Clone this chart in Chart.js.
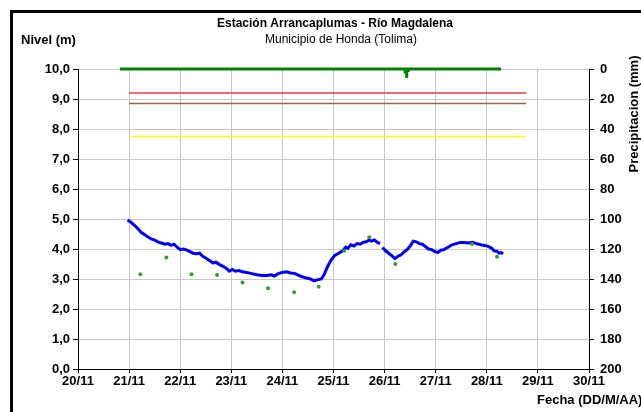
<!DOCTYPE html>
<html>
<head>
<meta charset="utf-8">
<script src="https://cdn.jsdelivr.net/npm/chart.js@4"></script>
<style>
  html, body { margin: 0; padding: 0; background: #fff; overflow: hidden; }
  #wrap { position: relative; width: 641px; height: 412px; }
  #frame { position: absolute; left: 10px; top: 10px; width: 700px; height: 500px; border: 3px solid #000; pointer-events: none; }
</style>
</head>
<body>
<div id="wrap">
  <canvas id="c" width="641" height="412"></canvas>
  <div id="frame"></div>
</div>
<script>
// ---- Data (x in days since 20/11 00:00) ----
const fechas = ["20/11","21/11","22/11","23/11","24/11","25/11","26/11","27/11","28/11","29/11","30/11"];

const nivelDias = [0.97,1.03,1.10,1.17,1.24,1.30,1.37,1.43,1.50,1.56,1.63,1.70,1.76,1.82,1.88,1.94,2.00,2.06,2.12,2.18,2.25,2.32,2.38,2.44,2.50,2.57,2.64,2.70,2.77,2.84,2.90,2.96,3.02,3.08,3.15,3.22,3.30,3.40,3.50,3.60,3.70,3.78,3.84,3.92,4.00,4.08,4.16,4.25,4.35,4.45,4.55,4.62,4.68,4.76,4.82,4.88,4.95,5.02,5.10,5.18,5.24,5.28,5.34,5.40,5.46,5.52,5.58,5.64,5.70,5.74,5.80,5.86,5.91,5.935,5.96,6.02,6.08,6.14,6.20,6.26,6.32,6.38,6.44,6.50,6.56,6.62,6.68,6.74,6.80,6.86,6.92,6.98,7.04,7.10,7.16,7.24,7.32,7.40,7.48,7.56,7.64,7.72,7.80,7.88,7.96,8.04,8.10,8.14,8.20,8.24,8.28,8.32];
const nivelValores = [4.97,4.90,4.80,4.68,4.55,4.48,4.40,4.34,4.30,4.24,4.20,4.16,4.18,4.12,4.16,4.06,3.98,4.00,3.97,3.92,3.86,3.84,3.86,3.76,3.70,3.62,3.54,3.56,3.48,3.42,3.36,3.26,3.32,3.26,3.28,3.24,3.22,3.18,3.14,3.12,3.12,3.14,3.10,3.18,3.22,3.24,3.20,3.18,3.10,3.04,3.00,2.94,2.97,3.00,3.16,3.40,3.62,3.78,3.86,3.94,4.06,4.02,4.14,4.10,4.18,4.16,4.22,4.24,4.30,4.26,4.30,4.22,4.18,null,4.05,3.94,3.86,3.78,3.68,3.76,3.80,3.90,3.98,4.10,4.26,4.24,4.18,4.16,4.08,4.00,3.98,3.92,3.88,3.96,3.98,4.06,4.14,4.18,4.22,4.22,4.20,4.22,4.18,4.14,4.12,4.08,4.02,3.94,3.92,3.86,3.88,3.84];

const lecturasDias = [1.22,1.73,2.22,2.72,3.22,3.72,4.23,4.71,5.21,5.70,6.21,7.71,8.20];
const lecturasValores = [3.16,3.72,3.16,3.13,2.88,2.69,2.56,2.74,3.94,4.39,3.50,4.17,3.74];

const precipDias = [0.82,6.400,6.402,6.404,6.430,6.432,6.434,6.460,6.462,6.464,8.28];
const precipValores = [0,0,3,0,0,6,0,0,2,0,0];

const umbralDias = [1.0, 8.77];
const umbralRojo = 9.2;
const umbralCafe = 8.85;
const umbralAmarillo = 7.75;

// ---- Chart ----
const pts = (xs, ys) => xs.map((x, i) => ({ x: x, y: ys[i] }));
const tickFont = { family: 'Liberation Sans, Arial, sans-serif', size: 13, weight: 'bold' };

const textPlugin = {
  id: 'texts',
  afterDraw(chart) {
    const c = chart.ctx;
    c.save();
    c.fillStyle = '#000';
    c.textBaseline = 'middle';
    c.textAlign = 'center';
    c.font = 'bold 12px "Liberation Sans", Arial, sans-serif';
    c.fillText('Estación Arrancaplumas - Río Magdalena', 335, 24);
    c.font = '12px "Liberation Sans", Arial, sans-serif';
    c.fillText('Municipio de Honda (Tolima)', 341, 40);
    c.textAlign = 'left';
    c.font = 'bold 13px "Liberation Sans", Arial, sans-serif';
    c.fillText('Nivel (m)', 21, 40);
    c.fillText('Fecha (DD/M/AA)', 537, 400);
    c.translate(634, 114);
    c.rotate(-Math.PI / 2);
    c.textAlign = 'center';
    c.fillText('Precipitacion (mm)', 0, 0);
    c.restore();
  }
};

new Chart(document.getElementById('c'), {
  type: 'line',
  data: {
    datasets: [
      { label: 'Lecturas', data: pts(lecturasDias, lecturasValores), showLine: false,
        pointRadius: 2, pointBackgroundColor: '#3a9a3a', pointBorderWidth: 0, yAxisID: 'y' },
      { label: 'Nivel', data: pts(nivelDias, nivelValores), borderColor: '#0000ff', borderWidth: 3,
        pointRadius: 0, spanGaps: false, tension: 0, yAxisID: 'y' },
      { label: 'Precipitacion', data: pts(precipDias, precipValores), borderColor: '#008000', borderWidth: 3,
        pointRadius: 0, tension: 0, yAxisID: 'y2', clip: 5, borderJoinStyle: 'miter' },
      { label: 'Rojo', data: pts(umbralDias, [umbralRojo, umbralRojo]), borderColor: '#f03c3c', borderWidth: 1.5, pointRadius: 0, yAxisID: 'y' },
      { label: 'Cafe', data: pts(umbralDias, [umbralCafe, umbralCafe]), borderColor: '#a0643c', borderWidth: 1.5, pointRadius: 0, yAxisID: 'y' },
      { label: 'Amarillo', data: pts(umbralDias, [umbralAmarillo, umbralAmarillo]), borderColor: '#ffff00', borderWidth: 1.5, pointRadius: 0, yAxisID: 'y' }
    ]
  },
  options: {
    responsive: false,
    animation: false,
    events: [],
    layout: { padding: { top: 69, left: 0, right: 0, bottom: 0 } },
    plugins: { legend: { display: false }, tooltip: { enabled: false }, title: { display: false } },
    scales: {
      x: {
        type: 'linear', min: 0, max: 10,
        ticks: { stepSize: 1, autoSkip: false, maxRotation: 0, color: '#000', font: tickFont, padding: 1,
          callback: (v) => fechas[Math.round(v)] },
        grid: { color: '#c8c8c8', lineWidth: 1, tickColor: '#000', tickLength: 4 },
        border: { color: '#000', width: 1 },
        afterFit(s) { s.height = 43; }
      },
      y: {
        position: 'left', min: 0, max: 10,
        ticks: { stepSize: 1, color: '#000', font: tickFont, padding: 3,
          callback: (v) => Number(v).toFixed(1).replace('.', ',') },
        grid: { color: '#c8c8c8', lineWidth: 1, tickColor: '#000', tickLength: 5 },
        border: { color: '#000', width: 1 },
        afterFit(s) { s.width = 78; }
      },
      y2: {
        position: 'right', min: 0, max: 200, reverse: true,
        ticks: { stepSize: 20, color: '#000', font: tickFont, padding: 6 },
        grid: { drawOnChartArea: false, tickColor: '#000', tickLength: 5 },
        border: { color: '#000', width: 1 },
        afterFit(s) { s.width = 52; }
      }
    }
  },
  plugins: [textPlugin]
});
</script>
</body>
</html>
